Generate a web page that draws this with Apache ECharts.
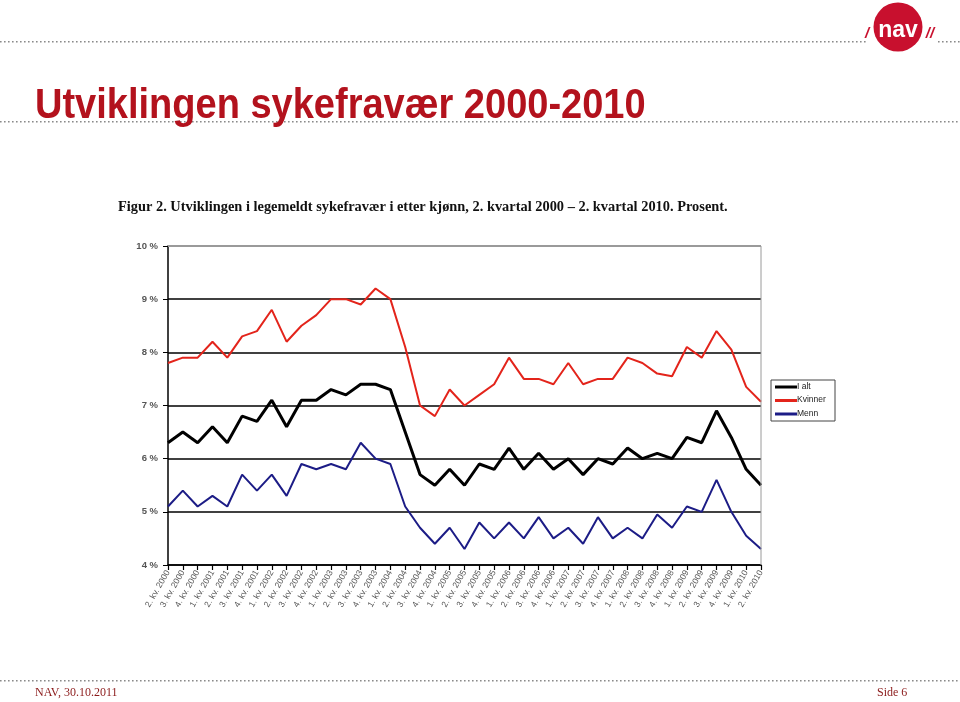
<!DOCTYPE html>
<html><head><meta charset="utf-8">
<script src="https://cdn.jsdelivr.net/npm/echarts@6/dist/echarts.min.js"></script>
<style>html,body{margin:0;padding:0;background:#fff}#c{width:960px;height:702px}</style>
</head><body><div id="c"></div>
<script>
const categories = [
"2. kv. 2000","3. kv. 2000","4. kv. 2000",
"1. kv. 2001","2. kv. 2001","3. kv. 2001","4. kv. 2001",
"1. kv. 2002","2. kv. 2002","3. kv. 2002","4. kv. 2002",
"1. kv. 2003","2. kv. 2003","3. kv. 2003","4. kv. 2003",
"1. kv. 2004","2. kv. 2004","3. kv. 2004","4. kv. 2004",
"1. kv. 2005","2. kv. 2005","3. kv. 2005","4. kv. 2005",
"1. kv. 2006","2. kv. 2006","3. kv. 2006","4. kv. 2006",
"1. kv. 2007","2. kv. 2007","3. kv. 2007","4. kv. 2007",
"1. kv. 2008","2. kv. 2008","3. kv. 2008","4. kv. 2008",
"1. kv. 2009","2. kv. 2009","3. kv. 2009","4. kv. 2009",
"1. kv. 2010","2. kv. 2010"];
const iAlt = [6.3,6.5,6.3,6.6,6.3,6.8,6.7,7.1,6.6,7.1,7.1,7.3,7.2,7.4,7.4,7.3,6.5,5.7,5.5,5.8,5.5,
              5.9,5.8,6.2,5.8,6.1,5.8,6.0,5.7,6.0,5.9,6.2,6.0,6.1,6.0,6.4,6.3,6.9,6.4,5.8,5.5];
const kvinner = [7.8,7.9,7.9,8.2,7.9,8.3,8.4,8.8,8.2,8.5,8.7,9.0,9.0,8.9,9.2,9.0,8.1,7.0,6.8,7.3,7.0,
                 7.2,7.4,7.9,7.5,7.5,7.4,7.8,7.4,7.5,7.5,7.9,7.8,7.6,7.55,8.1,7.9,8.4,8.05,7.35,7.07];
const menn = [5.1,5.4,5.1,5.3,5.1,5.7,5.4,5.7,5.3,5.9,5.8,5.9,5.8,6.3,6.0,5.9,5.1,4.7,4.4,4.7,4.3,
              4.8,4.5,4.8,4.5,4.9,4.5,4.7,4.4,4.9,4.5,4.7,4.5,4.95,4.7,5.1,5.0,5.6,5.0,4.55,4.3];
const yMin = 4, yMax = 10, yStep = 1;

const chart = echarts.init(document.getElementById('c'), null, {renderer:'canvas'});

function dots(y, x0, x1){
  const arr = [];
  for (let x = x0; x <= x1; x += 4) arr.push({type:'rect', shape:{x:x,y:y,width:1.6,height:1.6}, style:{fill:'#8a8a8a'}, silent:true});
  return arr;
}
const graphics = [].concat(dots(41, 0, 866), dots(41, 938, 960), dots(121, 0, 960), dots(680, 0, 960));
graphics.push(
  {type:'circle', shape:{cx:898, cy:27, r:24.5}, style:{fill:'#c8102e'}},
  {type:'text', x:898, y:31, style:{text:'nav', fill:'#fff', font:'bold 23px "Liberation Sans"', textAlign:'center', textVerticalAlign:'middle'}},
  {type:'text', x:867, y:34, style:{text:'/', fill:'#c8102e', font:'bold italic 15px "Liberation Sans"', textAlign:'center', textVerticalAlign:'middle'}},
  {type:'text', x:930, y:34, style:{text:'//', fill:'#c8102e', font:'bold italic 15px "Liberation Sans"', textAlign:'center', textVerticalAlign:'middle'}},
  {type:'text', x:35, y:127, scaleX:0.905, style:{text:'Utviklingen sykefravær 2000-2010', fill:'#b3121d', font:'bold 42px "Liberation Sans"', textVerticalAlign:'bottom'}},
  {type:'text', left:118, top:200, style:{text:'Figur 2. Utviklingen i legemeldt sykefravær i etter kjønn, 2. kvartal 2000 – 2. kvartal 2010. Prosent.', fill:'#111', font:'bold 14.4px "Liberation Serif"'}},
  {type:'text', left:35, top:687, style:{text:'NAV, 30.10.2011', fill:'#8b1a1a', font:'12px "Liberation Serif"'}},
  {type:'text', left:877, top:687, style:{text:'Side 6', fill:'#8b1a1a', font:'12px "Liberation Serif"'}},
  {type:'line', shape:{x1:168, y1:246, x2:761, y2:246}, style:{stroke:'#9a9a9a', lineWidth:2}, z:100},
  {type:'line', shape:{x1:761, y1:246, x2:761, y2:565}, style:{stroke:'#9a9a9a', lineWidth:1}, z:100},
  {type:'rect', shape:{x:771, y:380, width:64, height:41}, style:{fill:'#fff', stroke:'#444', lineWidth:1}}
);
const legItems = [['I alt','#000'],['Kvinner','#e3241b'],['Menn','#1c1c86']];
legItems.forEach((it,i)=>{
  const y = 387 + i*13.5;
  graphics.push({type:'line', shape:{x1:775,y1:y,x2:797,y2:y}, style:{stroke:it[1], lineWidth:3}});
  graphics.push({type:'text', left:797, top:y-5, style:{text:it[0], fill:'#222', font:'8.5px "Liberation Sans"'}});
});

chart.setOption({
  animation:false,
  backgroundColor:'#fff',
  grid:{left:168, right:199, top:246, bottom:137, containLabel:false},
  xAxis:{type:'category', data:categories, boundaryGap:false,
    axisLine:{lineStyle:{color:'#000', width:1.5}},
    axisTick:{show:true, alignWithLabel:true, length:5, lineStyle:{color:'#000', width:1.2}},
    axisLabel:{rotate:60, interval:0, fontSize:8.5, color:'#555', fontFamily:'Liberation Sans', margin:6},
    splitLine:{show:false}},
  yAxis:{type:'value', min:yMin, max:yMax, interval:yStep,
    axisLine:{show:true, lineStyle:{color:'#000', width:1.5}},
    axisTick:{show:true, length:5, lineStyle:{color:'#000'}},
    axisLabel:{formatter:v=>v+' %', fontSize:9.5, fontWeight:'bold', color:'#555', fontFamily:'Liberation Sans', margin:10},
    splitLine:{show:true, lineStyle:{color:'#000', width:1.5}}},
  series:[
    {name:'I alt', type:'line', data:iAlt, symbol:'none', lineStyle:{color:'#000', width:3}, z:3},
    {name:'Kvinner', type:'line', data:kvinner, symbol:'none', lineStyle:{color:'#e3241b', width:2}, z:2},
    {name:'Menn', type:'line', data:menn, symbol:'none', lineStyle:{color:'#1c1c86', width:2}, z:2}
  ],
  graphic:graphics
});
</script></body></html>
